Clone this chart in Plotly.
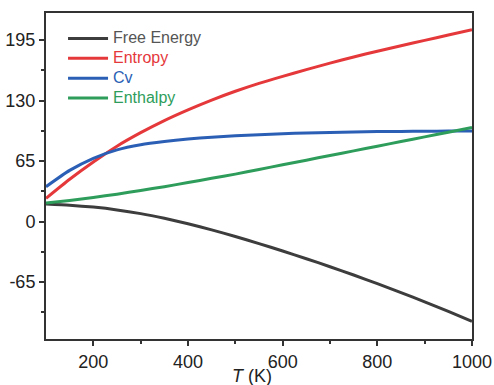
import plotly.graph_objects as go

T = [100, 150, 200, 250, 300, 350, 400, 450, 500, 550, 600, 650, 700, 750, 800, 850, 900, 950, 1000]
free_energy = [19, 17.7, 15.6, 12.6, 8.6, 3.6, -2.2, -8.8, -16, -23.6, -31.5, -39.8, -48.4, -57.3, -66.6, -76.2, -86.1, -96.4, -107]
entropy = [25, 45.5, 64, 81, 95.5, 108.5, 120, 130.5, 140, 148.5, 156, 163.2, 170.2, 176.8, 183, 188.9, 194.6, 200.4, 206]
cv = [37.5, 55, 68, 77, 82.5, 86, 88.7, 90.7, 92.2, 93.4, 94.4, 95.2, 95.8, 96.3, 96.7, 96.9, 97.1, 97.2, 97.3]
enthalpy = [20, 22.8, 26, 29.5, 33.5, 37.5, 42, 46.5, 51, 56, 61, 66, 71, 76, 81, 86, 91, 96, 101]

names = ["Free Energy", "Entropy", "Cv", "Enthalpy"]
colors = ["#3d3d3d", "#e5383b", "#2b5fb5", "#2e9d5b"]
text_colors = ["#555555", "#e5383b", "#2b5fb5", "#2e9d5b"]
series = [free_energy, entropy, cv, enthalpy]

x_ticks = [200, 400, 600, 800, 1000]
y_ticks = [-65, 0, 65, 130, 195]

fig = go.Figure()
for nm, col, tcol, ys in zip(names, colors, text_colors, series):
    fig.add_trace(go.Scatter(
        x=T, y=ys, mode="lines",
        name=f'<span style="color:{tcol};font-size:16px">{nm}</span>',
        line=dict(color=col, width=3, shape="spline", smoothing=0.6),
    ))

font_family = "Liberation Sans, Arial, sans-serif"
axis_common = dict(
    showline=True, linecolor="#333333", linewidth=2, mirror=True,
    ticks="outside", ticklen=5, tickwidth=1.5, tickcolor="#333333",
    showgrid=False, zeroline=False, automargin=False,
    tickfont=dict(family=font_family, size=18, color="#222222"),
)

fig.update_xaxes(
    range=[100, 1000], tickvals=x_ticks, ticktext=[str(v) for v in x_ticks],
    minor=dict(tickvals=[300, 500, 700, 900], ticks="outside", ticklen=3, tickcolor="#333333", tickwidth=1.5),
    **axis_common,
)
fig.update_yaxes(
    range=[-126, 224], tickvals=y_ticks, ticktext=[str(v) for v in y_ticks],
    minor=dict(tickvals=[-97.5, -32.5, 32.5, 97.5, 162.5], ticks="outside", ticklen=3, tickcolor="#333333", tickwidth=1.5),
    **axis_common,
)

fig.add_annotation(
    text="<i>T</i> (K)", xref="paper", yref="paper",
    x=0.4836, y=-0.115, xanchor="center", yanchor="middle", showarrow=False,
    font=dict(family=font_family, size=18, color="#222222"),
)

fig.update_layout(
    width=494, height=385,
    margin=dict(l=46, r=22, t=13, b=45.5),
    paper_bgcolor="white", plot_bgcolor="white",
    showlegend=True,
    legend=dict(
        x=0.04, y=0.968, xanchor="left", yanchor="top",
        bgcolor="rgba(0,0,0,0)", borderwidth=0,
        font=dict(family=font_family, size=13),
        tracegroupgap=0, itemwidth=40,
    ),
)

fig.write_html("out.html")
